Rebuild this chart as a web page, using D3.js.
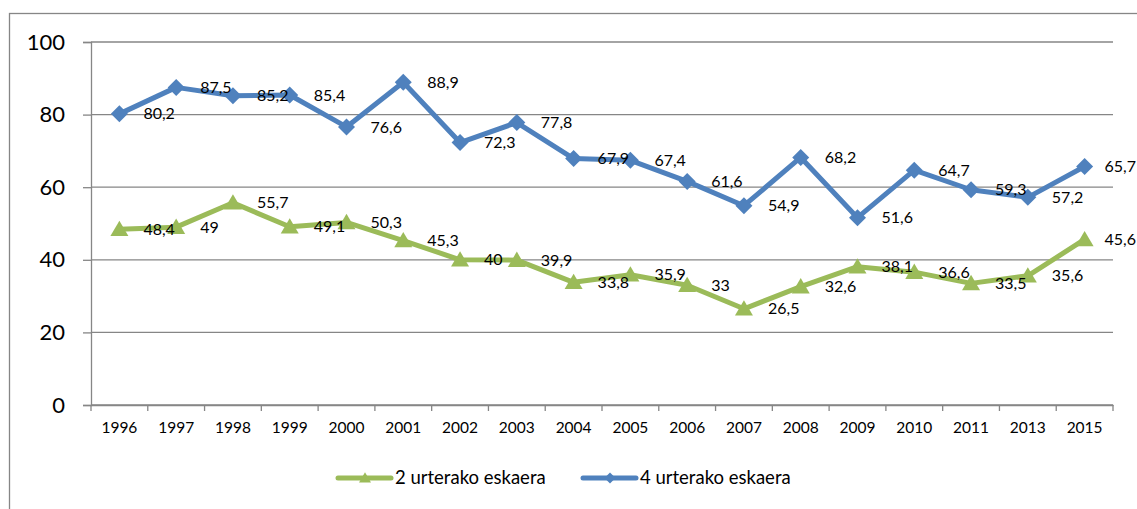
<!DOCTYPE html>
<html>
<head>
<meta charset="utf-8">
<script src="https://cdn.jsdelivr.net/npm/d3@7"></script>
<style>
  body { margin: 0; background: #fff; }
  svg { display: block; font-family: Lato, "Open Sans", sans-serif; }
</style>
</head>
<body>
<div id="chart"></div>
<script>
// categories and series
const years = ['1996', '1997', '1998', '1999', '2000', '2001', '2002', '2003', '2004',
  '2005', '2006', '2007', '2008', '2009', '2010', '2011', '2013', '2015'];
const eskaera2 = [48.4, 49, 55.7, 49.1, 50.3, 45.3, 40, 39.9, 33.8,
  35.9, 33, 26.5, 32.6, 38.1, 36.6, 33.5, 35.6, 45.6];
const eskaera4 = [80.2, 87.5, 85.2, 85.4, 76.6, 88.9, 72.3, 77.8, 67.9,
  67.4, 61.6, 54.9, 68.2, 51.6, 64.7, 59.3, 57.2, 65.7];
const yTicks = [0, 20, 40, 60, 80, 100];

const series = [
  {name: '2 urterako eskaera', values: eskaera2, color: '#9bbb59', marker: 'triangle'},
  {name: '4 urterako eskaera', values: eskaera4, color: '#4f81bd', marker: 'diamond'}
];

const W = 1137, H = 509;
const m = {top: 42, right: 24, bottom: 104, left: 91};
const grid = '#868686';

const svg = d3.select('#chart').append('svg')
  .attr('width', W)
  .attr('height', H);

// chart frame (runs off the right and bottom of the picture)
svg.append('rect')
  .attr('x', 9.5).attr('y', 13.5)
  .attr('width', W + 20).attr('height', H + 20)
  .style('fill', 'none')
  .style('stroke', grid)
  .style('stroke-width', 1.3);

const x = d3.scaleBand()
  .domain(years)
  .range([m.left, W - m.right]);
const y = d3.scaleLinear()
  .domain([0, 100])
  .range([H - m.bottom, m.top]);

// gridlines
svg.append('g').attr('class', 'grid')
  .selectAll('line')
  .data(yTicks)
  .join('line')
  .attr('x1', m.left).attr('x2', W - m.right)
  .attr('y1', d => y(d)).attr('y2', d => y(d))
  .style('stroke', grid)
  .style('stroke-width', 1.3);

// y axis
const yAxis = svg.append('g')
  .attr('transform', `translate(${m.left},0)`)
  .call(d3.axisLeft(y).tickValues(yTicks).tickSize(8).tickPadding(18));
yAxis.selectAll('path, line').style('stroke', grid).style('stroke-width', 1.3);
yAxis.selectAll('text')
  .style('font-size', '22px')
  .style('font-family', 'Lato, sans-serif')
  .style('fill', '#000');

// x axis: labels centred, ticks between categories
const xAxis = svg.append('g')
  .attr('transform', `translate(0,${y(0)})`)
  .call(d3.axisBottom(x).tickSize(0).tickPadding(17));
xAxis.select('.domain').style('stroke', grid).style('stroke-width', 1.3);
xAxis.selectAll('text')
  .style('font-size', '15.5px')
  .style('font-family', 'Lato, sans-serif')
  .style('fill', '#000');
xAxis.selectAll('.sep')
  .data(years.concat(['end']))
  .join('line')
  .attr('class', 'sep')
  .attr('x1', (d, i) => m.left + i * x.step())
  .attr('x2', (d, i) => m.left + i * x.step())
  .attr('y1', 0).attr('y2', 6)
  .style('stroke', grid)
  .style('stroke-width', 1.3);

const cx = i => x(years[i]) + x.bandwidth() / 2;

const symbolPath = (marker, s) => {
  if (marker === 'diamond') {
    return `M0,${-s}L${s},0L0,${s}L${-s},0Z`;
  }
  return `M0,${-s * 0.95}L${s},${s * 0.75}L${-s},${s * 0.75}Z`;
};

// series
series.forEach(sr => {
  const g = svg.append('g').attr('class', 'series');
  const line = d3.line()
    .x((d, i) => cx(i))
    .y(d => y(d));
  g.append('path')
    .datum(sr.values)
    .attr('d', line)
    .style('fill', 'none')
    .style('stroke', sr.color)
    .style('stroke-width', 5)
    .style('stroke-linejoin', 'round');
  g.selectAll('.mark')
    .data(sr.values)
    .join('path')
    .attr('class', 'mark')
    .attr('transform', (d, i) => `translate(${cx(i)},${y(d)})`)
    .attr('d', symbolPath(sr.marker, sr.marker === 'diamond' ? 8.5 : 9))
    .style('fill', sr.color);
});

// data labels, right of each point, kept inside the frame
series.forEach(sr => {
  svg.append('g').attr('class', 'labels')
    .selectAll('text')
    .data(sr.values)
    .join('text')
    .attr('y', d => y(d))
    .attr('dy', '0.35em')
    .style('font-size', '16px')
    .style('fill', '#000')
    .text(d => String(d).replace('.', ','))
    .attr('x', function(d, i) {
      const w = this.getComputedTextLength();
      return Math.min(cx(i) + 24, W - 1 - w);
    });
});

// legend
const legend = svg.append('g').attr('class', 'legend')
  .attr('transform', `translate(0,478)`);
const lx = [338, 583];
series.forEach((sr, i) => {
  const g = legend.append('g').attr('transform', `translate(${lx[i]},0)`);
  g.append('line')
    .attr('x1', 0).attr('x2', 53)
    .style('stroke', sr.color)
    .style('stroke-width', 5)
    .style('stroke-linecap', 'round');
  g.append('path')
    .attr('transform', 'translate(27,0)')
    .attr('d', symbolPath(sr.marker, sr.marker === 'diamond' ? 5.5 : 6))
    .style('fill', sr.color);
  g.append('text')
    .attr('x', 57)
    .attr('dy', '0.35em')
    .style('font-size', '18.5px')
    .style('fill', '#000')
    .text(sr.name);
});
</script>
</body>
</html>
